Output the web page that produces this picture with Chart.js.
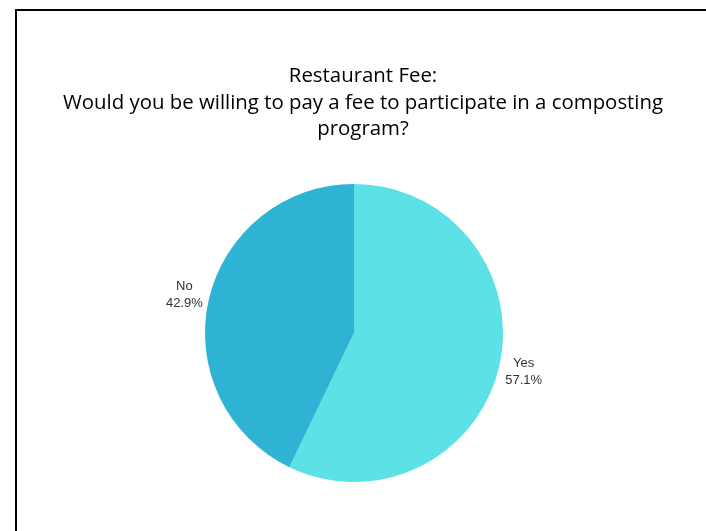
<!DOCTYPE html>
<html lang="en">
  <head>
    <meta charset="UTF-8" />
    <title>Restaurant Fee</title>
    <script src="https://cdn.jsdelivr.net/npm/chart.js"></script>
    <style>
      html, body {
        margin: 0;
        padding: 0;
        background: #fff;
      }
      .wrap {
        position: relative;
        width: 706px;
        height: 531px;
        overflow: hidden;
      }
      .frame {
        position: absolute;
        left: 15px;
        top: 9px;
        width: 720px;
        height: 560px;
        border-left: 2px solid #000;
        border-top: 2px solid #000;
      }
      canvas {
        position: absolute;
        left: 0;
        top: 0;
      }
    </style>
  </head>
  <body>
    <div class="wrap">
      <div class="frame"></div>
      <canvas id="myChart" width="706" height="531"></canvas>
    </div>
  </body>
  <script>
    const titleLines = [
      "Restaurant Fee:",
      "Would you be willing to pay a fee to participate in a composting",
      "program?",
    ];
    const labelList = ["Yes", "No"];
    const dataList = [4, 3]; // 57.1% / 42.9%
    const colorList = ["#5ce1e6", "#2eb3d4"];

    // title + outside labels drawn by hand
    const textPlugin = {
      id: "textPlugin",
      afterDraw(chart) {
        const c = chart.ctx;
        c.save();
        c.fillStyle = "#000";
        c.font = '20.4px "Open Sans"';
        c.textAlign = "center";
        c.textBaseline = "middle";
        const ys = [76, 103, 129];
        titleLines.forEach((t, i) => c.fillText(t, 363, ys[i]));

        const total = dataList.reduce((a, b) => a + b, 0);
        const meta = chart.getDatasetMeta(0);
        c.font = "13px Arial, 'Liberation Sans'";
        c.fillStyle = "#333";
        meta.data.forEach((arc, i) => {
          const p = arc.getProps(["x", "y", "startAngle", "endAngle", "outerRadius"]);
          const mid = (p.startAngle + p.endAngle) / 2;
          const r = p.outerRadius + 25;
          const x = p.x + Math.cos(mid) * r;
          const y = p.y + Math.sin(mid) * r;
          const pct = ((dataList[i] / total) * 100).toFixed(1) + "%";
          c.fillText(labelList[i], x, y - 8);
          c.fillText(pct, x, y + 9);
        });
        c.restore();
      },
    };

    const ctx = document.getElementById("myChart");
    const myChart = new Chart(ctx, {
      type: "pie",
      data: {
        labels: labelList,
        datasets: [
          {
            data: dataList,
            backgroundColor: colorList,
            borderWidth: 0,
            hoverOffset: 0,
          },
        ],
      },
      options: {
        responsive: false,
        animation: false,
        layout: {
          padding: { top: 184, bottom: 49, left: 2, right: 0 },
        },
        plugins: {
          legend: { display: false },
          tooltip: { enabled: false },
        },
      },
      plugins: [textPlugin],
    });
  </script>
</html>
